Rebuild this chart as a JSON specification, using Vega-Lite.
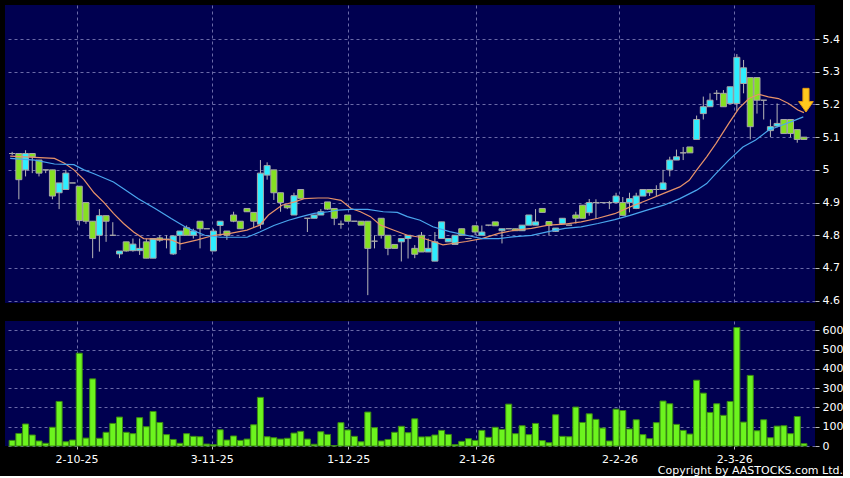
{
  "$schema": "https://vega.github.io/schema/vega-lite/v6.json",
  "background": "#000000",
  "padding": {"left": 5, "top": 5, "right": 0, "bottom": 0},
  "spacing": 15,
  "config": {
    "view": {"fill": "#000050", "stroke": null},
    "axis": {"labelColor": "#FFFFFF", "labelFont": "DejaVu Sans", "labelFontSize": 11, "labelOverlap": false, "gridColor": "#6A6AA8", "gridDash": [3, 3], "gridWidth": 1, "domain": false, "tickColor": "#BBBBBB", "tickSize": 4, "title": null}
  },
  "title": {"text": "Copyright by AASTOCKS.com Ltd.", "orient": "bottom", "anchor": "end", "frame": "bounds", "color": "#FFFFFF", "font": "DejaVu Sans", "fontSize": 11, "fontWeight": "normal", "offset": 1},
  "datasets": {
    "bars": [
      {"i":0,"o":5.05,"h":5.055,"l":5.045,"c":5.05,"v":29},
      {"i":1,"o":5.05,"h":5.05,"l":4.91,"c":4.97,"v":65},
      {"i":2,"o":5.0,"h":5.06,"l":4.98,"c":5.05,"v":114},
      {"i":3,"o":5.05,"h":5.05,"l":4.99,"c":5.04,"v":57},
      {"i":4,"o":5.03,"h":5.03,"l":4.98,"c":4.99,"v":26},
      {"i":5,"o":5.0,"h":5.0,"l":4.99,"c":5.0,"v":14},
      {"i":6,"o":5.0,"h":5.0,"l":4.91,"c":4.92,"v":97},
      {"i":7,"o":4.93,"h":4.96,"l":4.88,"c":4.96,"v":231},
      {"i":8,"o":4.94,"h":5.0,"l":4.94,"c":4.99,"v":22},
      {"i":9,"o":4.96,"h":4.96,"l":4.96,"c":4.96,"v":31},
      {"i":10,"o":4.95,"h":4.95,"l":4.83,"c":4.845,"v":481},
      {"i":11,"o":4.9,"h":4.9,"l":4.835,"c":4.843,"v":41},
      {"i":12,"o":4.843,"h":4.843,"l":4.73,"c":4.79,"v":348},
      {"i":13,"o":4.8,"h":4.88,"l":4.75,"c":4.86,"v":40},
      {"i":14,"o":4.86,"h":4.86,"l":4.78,"c":4.843,"v":71},
      {"i":15,"o":4.8,"h":4.84,"l":4.8,"c":4.8,"v":117},
      {"i":16,"o":4.743,"h":4.752,"l":4.73,"c":4.752,"v":150},
      {"i":17,"o":4.78,"h":4.78,"l":4.75,"c":4.752,"v":71},
      {"i":18,"o":4.753,"h":4.79,"l":4.75,"c":4.773,"v":64},
      {"i":19,"o":4.753,"h":4.79,"l":4.74,"c":4.76,"v":147},
      {"i":20,"o":4.78,"h":4.79,"l":4.73,"c":4.73,"v":100},
      {"i":21,"o":4.73,"h":4.79,"l":4.73,"c":4.79,"v":179},
      {"i":22,"o":4.792,"h":4.8,"l":4.78,"c":4.785,"v":122},
      {"i":23,"o":4.788,"h":4.8,"l":4.76,"c":4.788,"v":59},
      {"i":24,"o":4.743,"h":4.8,"l":4.74,"c":4.798,"v":34},
      {"i":25,"o":4.8,"h":4.813,"l":4.755,"c":4.813,"v":14},
      {"i":26,"o":4.823,"h":4.83,"l":4.8,"c":4.8,"v":64},
      {"i":27,"o":4.8,"h":4.82,"l":4.79,"c":4.813,"v":50},
      {"i":28,"o":4.843,"h":4.843,"l":4.76,"c":4.82,"v":48},
      {"i":29,"o":4.82,"h":4.82,"l":4.82,"c":4.82,"v":10},
      {"i":30,"o":4.752,"h":4.82,"l":4.752,"c":4.813,"v":7},
      {"i":31,"o":4.83,"h":4.843,"l":4.8,"c":4.843,"v":84},
      {"i":32,"o":4.813,"h":4.813,"l":4.786,"c":4.8,"v":31},
      {"i":33,"o":4.862,"h":4.872,"l":4.84,"c":4.843,"v":52},
      {"i":34,"o":4.843,"h":4.843,"l":4.82,"c":4.82,"v":29},
      {"i":35,"o":4.882,"h":4.882,"l":4.872,"c":4.872,"v":36},
      {"i":36,"o":4.87,"h":4.87,"l":4.825,"c":4.843,"v":110},
      {"i":37,"o":4.834,"h":5.03,"l":4.82,"c":4.99,"v":252},
      {"i":38,"o":4.984,"h":5.023,"l":4.97,"c":5.013,"v":48},
      {"i":39,"o":5.0,"h":5.0,"l":4.908,"c":4.93,"v":43},
      {"i":40,"o":4.93,"h":4.93,"l":4.872,"c":4.9,"v":36},
      {"i":41,"o":4.892,"h":4.892,"l":4.88,"c":4.884,"v":40},
      {"i":42,"o":4.862,"h":4.93,"l":4.862,"c":4.921,"v":67},
      {"i":43,"o":4.94,"h":4.94,"l":4.913,"c":4.913,"v":76},
      {"i":44,"o":4.852,"h":4.852,"l":4.81,"c":4.852,"v":36},
      {"i":45,"o":4.852,"h":4.862,"l":4.852,"c":4.862,"v":9},
      {"i":46,"o":4.862,"h":4.88,"l":4.862,"c":4.872,"v":74},
      {"i":47,"o":4.902,"h":4.902,"l":4.878,"c":4.88,"v":60},
      {"i":48,"o":4.882,"h":4.882,"l":4.831,"c":4.852,"v":2},
      {"i":49,"o":4.834,"h":4.845,"l":4.82,"c":4.834,"v":121},
      {"i":50,"o":4.862,"h":4.862,"l":4.843,"c":4.843,"v":83},
      {"i":51,"o":4.843,"h":4.843,"l":4.843,"c":4.843,"v":50},
      {"i":52,"o":4.843,"h":4.843,"l":4.831,"c":4.831,"v":22},
      {"i":53,"o":4.843,"h":4.843,"l":4.617,"c":4.76,"v":176},
      {"i":54,"o":4.782,"h":4.8,"l":4.76,"c":4.782,"v":95},
      {"i":55,"o":4.852,"h":4.852,"l":4.79,"c":4.8,"v":26},
      {"i":56,"o":4.8,"h":4.8,"l":4.739,"c":4.76,"v":34},
      {"i":57,"o":4.772,"h":4.772,"l":4.76,"c":4.76,"v":71},
      {"i":58,"o":4.78,"h":4.79,"l":4.72,"c":4.79,"v":102},
      {"i":59,"o":4.79,"h":4.8,"l":4.729,"c":4.8,"v":69},
      {"i":60,"o":4.76,"h":4.77,"l":4.73,"c":4.742,"v":141},
      {"i":61,"o":4.8,"h":4.81,"l":4.749,"c":4.749,"v":47},
      {"i":62,"o":4.749,"h":4.79,"l":4.749,"c":4.76,"v":48},
      {"i":63,"o":4.721,"h":4.81,"l":4.721,"c":4.78,"v":57},
      {"i":64,"o":4.79,"h":4.841,"l":4.79,"c":4.841,"v":81},
      {"i":65,"o":4.78,"h":4.79,"l":4.78,"c":4.79,"v":60},
      {"i":66,"o":4.772,"h":4.8,"l":4.772,"c":4.8,"v":7},
      {"i":67,"o":4.82,"h":4.82,"l":4.8,"c":4.8,"v":24},
      {"i":68,"o":4.79,"h":4.79,"l":4.79,"c":4.79,"v":38},
      {"i":69,"o":4.829,"h":4.83,"l":4.8,"c":4.81,"v":29},
      {"i":70,"o":4.8,"h":4.83,"l":4.8,"c":4.81,"v":81},
      {"i":71,"o":4.831,"h":4.831,"l":4.828,"c":4.831,"v":45},
      {"i":72,"o":4.841,"h":4.841,"l":4.829,"c":4.829,"v":97},
      {"i":73,"o":4.814,"h":4.82,"l":4.775,"c":4.82,"v":86},
      {"i":74,"o":4.82,"h":4.82,"l":4.82,"c":4.82,"v":217},
      {"i":75,"o":4.82,"h":4.82,"l":4.814,"c":4.814,"v":64},
      {"i":76,"o":4.814,"h":4.831,"l":4.814,"c":4.831,"v":105},
      {"i":77,"o":4.831,"h":4.862,"l":4.831,"c":4.862,"v":59},
      {"i":78,"o":4.831,"h":4.88,"l":4.831,"c":4.841,"v":117},
      {"i":79,"o":4.882,"h":4.882,"l":4.87,"c":4.87,"v":28},
      {"i":80,"o":4.842,"h":4.842,"l":4.8,"c":4.83,"v":17},
      {"i":81,"o":4.812,"h":4.822,"l":4.81,"c":4.822,"v":162},
      {"i":82,"o":4.836,"h":4.852,"l":4.836,"c":4.852,"v":50},
      {"i":83,"o":4.831,"h":4.831,"l":4.831,"c":4.831,"v":48},
      {"i":84,"o":4.862,"h":4.872,"l":4.836,"c":4.852,"v":202},
      {"i":85,"o":4.892,"h":4.892,"l":4.852,"c":4.852,"v":122},
      {"i":86,"o":4.869,"h":4.911,"l":4.86,"c":4.9,"v":167},
      {"i":87,"o":4.9,"h":4.91,"l":4.85,"c":4.9,"v":138},
      {"i":88,"o":4.9,"h":4.9,"l":4.9,"c":4.9,"v":93},
      {"i":89,"o":4.9,"h":4.905,"l":4.88,"c":4.9,"v":26},
      {"i":90,"o":4.9,"h":4.93,"l":4.9,"c":4.92,"v":191},
      {"i":91,"o":4.9,"h":4.917,"l":4.86,"c":4.861,"v":184},
      {"i":92,"o":4.9,"h":4.93,"l":4.87,"c":4.912,"v":88},
      {"i":93,"o":4.882,"h":4.93,"l":4.88,"c":4.92,"v":136},
      {"i":94,"o":4.92,"h":4.94,"l":4.92,"c":4.94,"v":59},
      {"i":95,"o":4.94,"h":4.94,"l":4.92,"c":4.93,"v":38},
      {"i":96,"o":4.94,"h":4.953,"l":4.92,"c":4.94,"v":121},
      {"i":97,"o":4.94,"h":5.0,"l":4.94,"c":4.96,"v":233},
      {"i":98,"o":5.0,"h":5.04,"l":4.98,"c":5.03,"v":219},
      {"i":99,"o":5.03,"h":5.062,"l":5.03,"c":5.04,"v":112},
      {"i":100,"o":5.052,"h":5.07,"l":5.03,"c":5.052,"v":81},
      {"i":101,"o":5.07,"h":5.07,"l":5.052,"c":5.052,"v":62},
      {"i":102,"o":5.093,"h":5.166,"l":5.093,"c":5.154,"v":341},
      {"i":103,"o":5.172,"h":5.224,"l":5.154,"c":5.193,"v":274},
      {"i":104,"o":5.193,"h":5.234,"l":5.193,"c":5.213,"v":174},
      {"i":105,"o":5.234,"h":5.244,"l":5.213,"c":5.234,"v":219},
      {"i":106,"o":5.234,"h":5.244,"l":5.193,"c":5.193,"v":159},
      {"i":107,"o":5.203,"h":5.254,"l":5.203,"c":5.254,"v":231},
      {"i":108,"o":5.203,"h":5.354,"l":5.18,"c":5.344,"v":614},
      {"i":109,"o":5.264,"h":5.336,"l":5.234,"c":5.312,"v":124},
      {"i":110,"o":5.282,"h":5.282,"l":5.093,"c":5.132,"v":366},
      {"i":111,"o":5.282,"h":5.282,"l":5.172,"c":5.213,"v":79},
      {"i":112,"o":5.213,"h":5.213,"l":5.154,"c":5.213,"v":136},
      {"i":113,"o":5.12,"h":5.154,"l":5.1,"c":5.132,"v":43},
      {"i":114,"o":5.134,"h":5.203,"l":5.13,"c":5.142,"v":103},
      {"i":115,"o":5.154,"h":5.154,"l":5.111,"c":5.111,"v":105},
      {"i":116,"o":5.154,"h":5.154,"l":5.1,"c":5.111,"v":64},
      {"i":117,"o":5.123,"h":5.123,"l":5.083,"c":5.093,"v":153},
      {"i":118,"o":5.1,"h":5.1,"l":5.093,"c":5.093,"v":12}
    ],
    "ma": [
      {"s":"a","i":-0.3,"p":5.042},{"s":"a","i":6.3,"p":5.035},{"s":"a","i":7.8,"p":5.02},{"s":"a","i":9.2,"p":5.0},{"s":"a","i":10.7,"p":4.97},{"s":"a","i":12.2,"p":4.93},{"s":"a","i":13.7,"p":4.9},{"s":"a","i":15.1,"p":4.867},{"s":"a","i":16.6,"p":4.836},{"s":"a","i":18.1,"p":4.81},{"s":"a","i":19.6,"p":4.79},{"s":"a","i":21.3,"p":4.788},{"s":"a","i":23.7,"p":4.786},{"s":"a","i":25.1,"p":4.774},{"s":"a","i":27.6,"p":4.786},{"s":"a","i":30.1,"p":4.8},{"s":"a","i":32.5,"p":4.806},{"s":"a","i":35,"p":4.816},{"s":"a","i":36.9,"p":4.831},{"s":"a","i":38.2,"p":4.862},{"s":"a","i":40.2,"p":4.892},{"s":"a","i":42.1,"p":4.902},{"s":"a","i":43.5,"p":4.912},{"s":"a","i":45.6,"p":4.914},{"s":"a","i":47.1,"p":4.914},{"s":"a","i":49,"p":4.907},{"s":"a","i":50.5,"p":4.882},{"s":"a","i":51.9,"p":4.872},{"s":"a","i":53.4,"p":4.857},{"s":"a","i":54.9,"p":4.831},{"s":"a","i":56.8,"p":4.816},{"s":"a","i":58.9,"p":4.8},{"s":"a","i":60.8,"p":4.794},{"s":"a","i":62.7,"p":4.781},{"s":"a","i":64.2,"p":4.771},{"s":"a","i":67.7,"p":4.781},{"s":"a","i":70,"p":4.79},{"s":"a","i":72.5,"p":4.806},{"s":"a","i":75,"p":4.816},{"s":"a","i":77.4,"p":4.821},{"s":"a","i":79.9,"p":4.831},{"s":"a","i":82.4,"p":4.834},{"s":"a","i":84.8,"p":4.841},{"s":"a","i":87.3,"p":4.852},{"s":"a","i":89.8,"p":4.866},{"s":"a","i":92.1,"p":4.887},{"s":"a","i":94.6,"p":4.907},{"s":"a","i":97.1,"p":4.928},{"s":"a","i":99.5,"p":4.948},{"s":"a","i":100.9,"p":4.968},{"s":"a","i":102,"p":4.999},{"s":"a","i":103.5,"p":5.04},{"s":"a","i":104.9,"p":5.081},{"s":"a","i":106.8,"p":5.142},{"s":"a","i":108.3,"p":5.188},{"s":"a","i":109.8,"p":5.218},{"s":"a","i":111.3,"p":5.231},{"s":"a","i":112.7,"p":5.223},{"s":"a","i":114.2,"p":5.218},{"s":"a","i":115.7,"p":5.203},{"s":"a","i":117.1,"p":5.183},{"s":"a","i":118,"p":5.175},
      {"s":"b","i":-0.3,"p":5.035},{"s":"b","i":3.4,"p":5.03},{"s":"b","i":6.3,"p":5.018},{"s":"b","i":9.2,"p":5.016},{"s":"b","i":10.7,"p":5.0},{"s":"b","i":12.2,"p":4.988},{"s":"b","i":13.7,"p":4.975},{"s":"b","i":15.1,"p":4.963},{"s":"b","i":16.6,"p":4.942},{"s":"b","i":18.8,"p":4.912},{"s":"b","i":21.3,"p":4.882},{"s":"b","i":23.7,"p":4.851},{"s":"b","i":26.2,"p":4.821},{"s":"b","i":28.7,"p":4.8},{"s":"b","i":31,"p":4.794},{"s":"b","i":35,"p":4.794},{"s":"b","i":36.9,"p":4.81},{"s":"b","i":39,"p":4.83},{"s":"b","i":41.2,"p":4.846},{"s":"b","i":43.1,"p":4.857},{"s":"b","i":45,"p":4.867},{"s":"b","i":47.1,"p":4.872},{"s":"b","i":48.6,"p":4.877},{"s":"b","i":50.5,"p":4.879},{"s":"b","i":53,"p":4.879},{"s":"b","i":55.3,"p":4.872},{"s":"b","i":57.4,"p":4.87},{"s":"b","i":58.9,"p":4.857},{"s":"b","i":60.8,"p":4.846},{"s":"b","i":62.7,"p":4.826},{"s":"b","i":65.2,"p":4.811},{"s":"b","i":67.7,"p":4.8},{"s":"b","i":70,"p":4.79},{"s":"b","i":72.5,"p":4.79},{"s":"b","i":75,"p":4.796},{"s":"b","i":77.4,"p":4.8},{"s":"b","i":79.9,"p":4.811},{"s":"b","i":82.4,"p":4.821},{"s":"b","i":84.8,"p":4.826},{"s":"b","i":87.3,"p":4.836},{"s":"b","i":89.8,"p":4.848},{"s":"b","i":92.1,"p":4.861},{"s":"b","i":94.6,"p":4.877},{"s":"b","i":97.1,"p":4.892},{"s":"b","i":99.5,"p":4.912},{"s":"b","i":102,"p":4.938},{"s":"b","i":103.5,"p":4.958},{"s":"b","i":104.9,"p":4.989},{"s":"b","i":106.8,"p":5.03},{"s":"b","i":108.9,"p":5.07},{"s":"b","i":110.8,"p":5.091},{"s":"b","i":112.7,"p":5.121},{"s":"b","i":114.8,"p":5.137},{"s":"b","i":116.7,"p":5.152},{"s":"b","i":117.9,"p":5.162}
    ],
    "mark": [{"i": 118.3, "p": 5.213}]
  },
  "vconcat": [
    {
      "width": 810,
      "height": 298,
      "data": {"name": "bars"},
      "encoding": {
        "x": {"field": "i", "type": "quantitative", "scale": {"domain": [-0.32, 118.9], "nice": false, "zero": false},
              "axis": {"values": [9.6, 29.75, 50.1, 69.2, 90.5, 107.6], "labels": false, "ticks": false, "grid": true}}
      },
      "layer": [
        {
          "mark": {"type": "rule", "color": "#B8B8B8", "strokeWidth": 1},
          "encoding": {
            "y": {"field": "l", "type": "quantitative", "scale": {"domain": [4.593, 5.504], "nice": false, "zero": false},
                  "axis": {"orient": "right", "values": [4.6, 4.7, 4.8, 4.9, 5.0, 5.1, 5.2, 5.3, 5.4], "format": ".1~f", "grid": true, "labelPadding": 3, "labelOverlap": false}},
            "y2": {"field": "h"}
          }
        },
        {
          "mark": {"type": "bar", "size": 6, "stroke": "#A8A8A8", "strokeWidth": 1},
          "encoding": {
            "y": {"field": "o", "type": "quantitative",
                  "axis": {"orient": "right", "values": [4.6, 4.7, 4.8, 4.9, 5.0, 5.1, 5.2, 5.3, 5.4], "format": ".1~f", "grid": true, "labelPadding": 3, "labelOverlap": false}},
            "y2": {"field": "c"},
            "fill": {"condition": [{"test": "datum.c > datum.o", "value": "#2EEEFF"}, {"test": "datum.c == datum.o", "value": "#A8A8A8"}], "value": "#86E022"}
          }
        },
        {
          "data": {"name": "ma"},
          "mark": {"type": "line", "strokeWidth": 1.2},
          "encoding": {
            "y": {"field": "p", "type": "quantitative",
                  "axis": {"orient": "right", "values": [4.6, 4.7, 4.8, 4.9, 5.0, 5.1, 5.2, 5.3, 5.4], "format": ".1~f", "grid": true, "labelPadding": 3, "labelOverlap": false}},
            "color": {"field": "s", "type": "nominal", "scale": {"domain": ["a", "b"], "range": ["#E8936A", "#4AA6EE"]}, "legend": null}
          }
        },
        {
          "data": {"name": "mark"},
          "mark": {"type": "point", "shape": "M-0.26,-1 L0.26,-1 L0.26,0.12 L0.62,0.12 L0,1 L-0.62,0.12 L-0.26,0.12 Z", "size": 560, "filled": true, "fill": "#FFC81E", "stroke": "#E89A10", "strokeWidth": 1, "opacity": 1},
          "encoding": {
            "y": {"field": "p", "type": "quantitative",
                  "axis": {"orient": "right", "values": [4.6, 4.7, 4.8, 4.9, 5.0, 5.1, 5.2, 5.3, 5.4], "format": ".1~f", "grid": true, "labelPadding": 3, "labelOverlap": false}}
          }
        }
      ]
    },
    {
      "width": 810,
      "height": 125,
      "data": {"name": "bars"},
      "mark": {"type": "bar", "size": 6, "fill": "#6CF41E", "stroke": "#3A8A12", "strokeWidth": 1},
      "encoding": {
        "x": {"field": "i", "type": "quantitative", "scale": {"domain": [-0.32, 118.9], "nice": false, "zero": false},
              "axis": {"values": [9.6, 29.75, 50.1, 69.2, 90.5, 107.6], "grid": true, "ticks": true, "tickSize": 3, "labelPadding": 4,
                       "labelExpr": "datum.value < 20 ? '2-10-25' : datum.value < 40 ? '3-11-25' : datum.value < 60 ? '1-12-25' : datum.value < 80 ? '2-1-26' : datum.value < 100 ? '2-2-26' : '2-3-26'"}},
        "y": {"field": "v", "type": "quantitative", "scale": {"domain": [0, 648], "nice": false},
              "axis": {"orient": "right", "values": [0, 100, 200, 300, 400, 500, 600], "grid": true, "labelPadding": 3, "labelOverlap": false}}
      }
    }
  ]
}
